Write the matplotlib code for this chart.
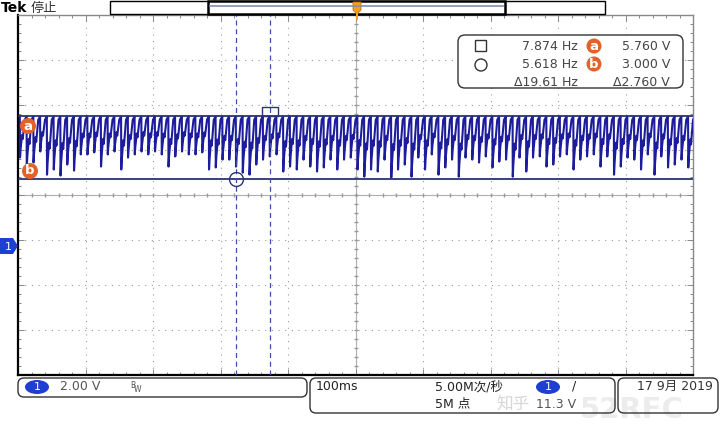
import numpy as np
import matplotlib.pyplot as plt
from matplotlib.patches import FancyBboxPatch, Rectangle, Circle, Ellipse, Polygon
from matplotlib.path import Path

plt.rcParams['font.family'] = ['DejaVu Sans', 'Noto Sans CJK SC']

period_ms = 10.0          # 100 Hz ripple
first_dip_ms = 3.0
top_v = 5.76
# minimum of each ripple dip (V), left to right
dip_v = [3.93, 3.53, 3.71, 4.20, 3.17, 3.40, 3.13, 3.62, 3.35, 4.07,
         4.07, 4.16, 3.53, 4.07, 4.20, 3.40, 3.93, 4.07, 4.20, 4.07,
         4.20, 4.07, 3.53, 3.98, 4.20,
         4.07, 4.07, 4.16, 3.40, 3.49, 3.84, 3.84, 3.53, 3.26, 3.17,
         3.62, 3.84, 3.98, 4.07, 3.31, 3.53, 3.40, 3.84, 3.53, 3.31,
         3.49, 3.84, 3.40, 3.84, 3.93,
         3.40, 3.08, 3.40, 3.31, 3.84, 3.04, 3.40, 3.62, 3.08, 3.93,
         3.40, 4.07, 3.17, 3.49, 3.84, 3.08, 3.93, 3.84, 3.71, 3.98,
         3.49, 3.75, 3.84, 3.08, 3.93,
         3.31, 3.93, 3.98, 3.53, 3.62, 3.98, 4.07, 3.40, 3.84, 3.98,
         4.07, 3.53, 3.98, 3.17, 3.53, 3.93, 3.84, 3.40, 4.07, 3.17,
         3.98, 3.49, 3.62, 3.84, 3.49, 3.75]

cursor_a_t, cursor_b_t = 373.0, 323.0     # ms
cursor_a_v, cursor_b_v = 5.760, 3.000     # V
readout_rows = [('7.874 Hz', 'a', '5.760 V'),
                ('5.618 Hz', 'b', '3.000 V'),
                ('\u039419.61 Hz', '', '\u03942.760 V')]
volts_div = '2.00 V'
time_div = '100ms'
sample_rate = '5.00M次/秒'
record_len = '5M 点'
trig_level = '11.3 V'
date_str = '17 9月 2019'

# build trace: vertical drop to dip, then slanted recovery
tt, vv = [], []
for i, d in enumerate(dip_v):
    t0 = first_dip_ms + i * period_ms
    tt += [t0 - 0.3, t0, t0 + 0.8, t0 + 3.0, t0 + 4.0, t0 + 7.0, t0 + 9.7]
    vv += [top_v, d, d + 0.2 * (top_v - d), d + 0.55 * (top_v - d),
           d + 0.45 * (top_v - d), top_v - 0.15, top_v]

navy = '#1c1c9c'
orange = '#e2622a'
W, H = 720, 432
fig = plt.figure(figsize=(7.2, 4.32), dpi=100)

# main graticule axes: 10 x 8 divisions, ground at 2.87 div from bottom
x0, x1, y0, y1 = 18, 693, 15, 375
ax = fig.add_axes([x0 / W, 1 - y1 / H, (x1 - x0) / W, (y1 - y0) / H])
vlo = -(y1 - 246) / 45 * 2
ax.set_xlim(0, 1000)
ax.set_ylim(vlo, vlo + 16)
xg = np.arange(0, 1001, 100)
yg = vlo + np.arange(0, 17, 2)
for xv in xg[1:-1]:
    ax.axvline(xv, color='#999999', lw=0.8, ls=(0, (1, 5)), zorder=1)
for yv in yg[1:-1]:
    ax.axhline(yv, color='#999999', lw=0.8, ls=(0, (1, 5)), zorder=1)
ax.axvline(500, color='#b0b0b0', lw=0.8, zorder=1)
ax.axhline(yg[4], color='#b0b0b0', lw=0.8, zorder=1)
ax.plot(np.arange(0, 1001, 20), np.full(51, yg[4]), ls='none', marker='|', ms=2.5, color='#999999', zorder=1)
ax.plot(np.full(41, 500.0), vlo + np.arange(0, 16.01, 0.4), ls='none', marker='_', ms=2.5, color='#999999', zorder=1)
ax.set_xticks(xg)
ax.set_yticks(yg)
ax.set_xticks(np.arange(0, 1001, 20), minor=True)
ax.set_yticks(vlo + np.arange(0, 16.01, 0.4), minor=True)
ax.tick_params(which='both', direction='in', top=True, right=True, labelbottom=False, labelleft=False,
               color='#888888', width=0.7)
ax.tick_params(which='major', length=4)
ax.tick_params(which='minor', length=2.5)
for s in ['left', 'bottom']:
    ax.spines[s].set_color('black')
    ax.spines[s].set_linewidth(1.6)
for s in ['top', 'right']:
    ax.spines[s].set_color('#888888')
    ax.spines[s].set_linewidth(1.0)

# trace and cursors
ax.plot(tt, vv, color=navy, lw=1.5, zorder=3)
ax.axhline(cursor_a_v, color='#2a3470', lw=1.3, zorder=4)
ax.axhline(cursor_b_v, color='#2a3470', lw=1.3, zorder=4)
ax.axvline(cursor_a_t, color='#3a50a8', lw=0.9, ls=(0, (4, 3)), zorder=4)
ax.axvline(cursor_b_t, color='#3a50a8', lw=0.9, ls=(0, (4, 3)), zorder=4)
sq = Path([(-1, 0), (1, 0), (1, 1.2), (-1, 1.2), (-1, 0)])
ax.plot(cursor_a_t, cursor_a_v, marker=sq, ms=13, mfc='none', mec='#2a3470', mew=1.0, zorder=5)
ax.plot(cursor_b_t, cursor_b_v, marker='o', ms=10, mfc='none', mec='#2a3470', mew=1.0, zorder=5)

# overlay in pixel coordinates for the screen furniture
ov = fig.add_axes([0, 0, 1, 1])
ov.set_xlim(0, W)
ov.set_ylim(H, 0)
ov.axis('off')
ov.patch.set_alpha(0)

# header
ov.text(1, 8, 'Tek', fontsize=10, fontweight='bold', va='center')
ov.text(31, 8, '停止', fontsize=9.5, va='center', color='#333333')
ov.add_patch(Rectangle((110, 1), 495, 13, fill=False, ec='black', lw=1.0))
ov.add_patch(Rectangle((208, 1), 297, 13, fc='white', ec='black', lw=1.8))
ov.plot([210, 503], [6, 6], color='#8090b0', lw=1.2)
ov.add_patch(Polygon([(353, 2), (361, 2), (361, 10), (357, 14), (353, 10)], closed=True, fc='#f0a020', ec='#c07010', lw=0.6))
ov.plot([357, 357], [14, 19], color='#f0a020', lw=1.5)

# cursor badges
for (cx, cy, lab) in [(28, 126, 'a'), (30, 171, 'b')]:
    ov.add_patch(Circle((cx, cy), 8, fc=orange, ec='none', zorder=6))
    ov.text(cx, cy, lab, color='white', fontsize=9.5, fontweight='bold', ha='center', va='center', zorder=7)

# channel 1 ground marker
ov.add_patch(Polygon([(0, 238), (13, 238), (18, 246), (13, 254), (0, 254)], closed=True, fc='#1f3fd0', ec='none'))
ov.text(8, 246.5, '1', color='white', fontsize=8, ha='center', va='center')

# readout box
ov.add_patch(FancyBboxPatch((458, 35), 225, 53, boxstyle='round,pad=0,rounding_size=7', fc='white', ec='#333333', lw=1.0, zorder=6))
ov.add_patch(Rectangle((475, 40), 11, 11, fill=False, ec='#333333', lw=1.0, zorder=7))
ov.add_patch(Circle((481, 65), 6, fill=False, ec='#333333', lw=1.0, zorder=7))
for k, (freq, lab, volt) in enumerate(readout_rows):
    yy = 46 + k * 18
    ov.text(578, yy, freq, fontsize=9, ha='right', va='center', color='#444444', zorder=7)
    ov.text(670, yy, volt, fontsize=9, ha='right', va='center', color='#444444', zorder=7)
    if lab:
        ov.add_patch(Circle((594, yy), 7.5, fc=orange, ec='none', zorder=7))
        ov.text(594, yy, lab, color='white', fontsize=9.5, fontweight='bold', ha='center', va='center', zorder=8)

# bottom status boxes
ov.add_patch(FancyBboxPatch((18, 378), 289, 19, boxstyle='round,pad=0,rounding_size=6', fill=False, ec='#333333', lw=1.0))
ov.add_patch(FancyBboxPatch((310, 378), 305, 35, boxstyle='round,pad=0,rounding_size=6', fill=False, ec='#333333', lw=1.0))
ov.add_patch(FancyBboxPatch((618, 378), 100, 35, boxstyle='round,pad=0,rounding_size=6', fill=False, ec='#333333', lw=1.0))
for ex in [37, 548]:
    ov.add_patch(Ellipse((ex, 387), 24, 14, fc='#1f3fd0', ec='none'))
    ov.text(ex, 387.5, '1', color='white', fontsize=8, ha='center', va='center')
ov.text(60, 387, volts_div, fontsize=9, va='center', color='#555555')
ov.text(130, 386, 'B', fontsize=5.5, va='center', color='#555555')
ov.text(134, 389, 'W', fontsize=5.5, va='center', color='#555555')
ov.text(316, 387, time_div, fontsize=9, va='center', color='#222222')
ov.text(435, 387, sample_rate, fontsize=9, va='center', color='#222222')
ov.text(435, 404, record_len, fontsize=9, va='center', color='#222222')
ov.text(572, 386, '/', fontsize=9, va='center', color='#222222')
ov.text(536, 404, trig_level, fontsize=9, va='center', color='#555555')

ov.text(713, 386, date_str, fontsize=9, ha='right', va='center', color='#333333')

# watermark
ov.text(496, 404, '知乎', fontsize=12, va='center', color='#cccccc', alpha=0.8)
ov.text(580, 410, '52RFC', fontsize=21, fontweight='bold', va='center', color='#e4e4e4', alpha=0.7, zorder=0)

fig.savefig('out.png', dpi=100)
